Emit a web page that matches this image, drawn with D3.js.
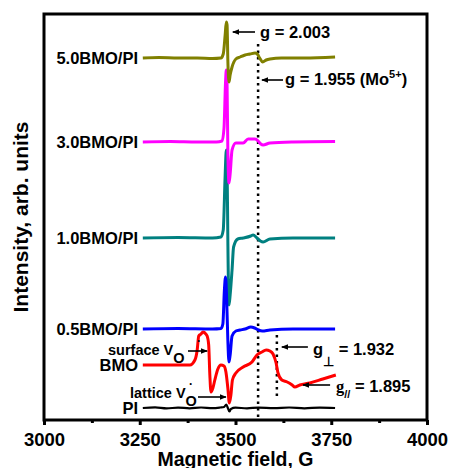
<!DOCTYPE html>
<html>
<head>
<meta charset="utf-8">
<script src="https://cdn.jsdelivr.net/npm/d3@7"></script>
<style>
  body { margin: 0; background: #fff; }
  text { font-family: "Liberation Sans", Arial, sans-serif; font-weight: bold; }
</style>
</head>
<body>
<svg id="chart" width="449" height="468"></svg>
<script>
// ---------- data (magnetic field in G, intensity in arb. units incl. vertical offset) ----------
const xTicks = [3000, 3250, 3500, 3750, 4000];
const xMinorTicks = [3125, 3375, 3625, 3875];

const fieldPI = [3258,3290,3320,3350,3380,3410,3440,3460,3470,3476,3480,3484,3488,3500,3530,3560,3600,3640,3680,3720,3760];
const intPI   = [12,12.6,11.6,12.4,11.7,12.5,11.9,12.5,13,15.5,12,8.5,11,12.3,11.7,12.4,11.8,12.5,11.7,12.4,12];

const fieldBMO = [3258,3329,3381,3394,3400,3404,3410,3415,3420,3426,3430,3433,3436,3441,3446,3454,3462,3470,3475,3480,3484,3488,3492,3501,3520,3543,3556,3569,3580,3590,3598,3606,3611,3621,3635,3648,3655,3668,3694,3728,3762];
const intBMO   = [55,55,55,60,70,84,86,88,87,84,75,45,28,32,40,51,55,54,48,32,17,25,40,47,53,58,65,68,70,69,66,57,47,40,38,35,33,35,37,41,45];

const field05 = [3258,3350,3440,3462,3467,3471,3474,3477,3480,3483,3486,3491,3501,3512,3525,3540,3550,3560,3570,3590,3650,3760];
const int05   = [91,91.5,91,91.5,96,130,143,120,80,58,65,84,89,90,91,93,92,90,89,90,91,91];

const field10 = [3258,3350,3440,3462,3468,3473,3476,3478,3480,3483,3486,3491,3495,3506,3520,3540,3546,3556,3565,3572,3590,3650,3760];
const int10   = [182,182.5,182,183,190,245,270,255,180,115,125,150,173,181,182,184,185,182,179,178,181,182,182];

const field30 = [3258,3330,3400,3450,3465,3470,3474,3476,3478,3480,3483,3486,3491,3501,3520,3533,3551,3559,3566,3572,3590,3650,3760];
const int30   = [278,278.5,278,278,279,292,338,350,335,270,237,246,270,277,277,281,281,279,276,275,277,278,278.5];

const field50 = [3258,3300,3350,3400,3440,3462,3468,3473,3476,3478,3480,3483,3486,3491,3501,3512,3525,3538,3551,3557,3563,3571,3580,3590,3620,3680,3760];
const int50   = [362,362.5,362,362,361.5,362,366,385,398,395,360,338,345,353,361,363,365,366,367,366,362,358,360,361,362,362,363];

const seriesNames  = ["PI", "BMO", "1.0BMO/PI", "0.5BMO/PI", "3.0BMO/PI", "5.0BMO/PI"];
const seriesColors = ["#000000", "#ff0000", "#008080", "#0000ff", "#ff00ff", "#808000"];
const seriesFields = [fieldPI, fieldBMO, field10, field05, field30, field50];
const seriesInts   = [intPI, intBMO, int10, int05, int30, int50];

// ---------- layout ----------
const W = 449, H = 468;
const L = 44, R = 427, T = 14, B = 420;

const svg = d3.select("#chart");
const x = d3.scaleLinear().domain([3000, 4000]).range([L, R]);
const y = d3.scaleLinear().domain([0, 406]).range([B, T]);

// dotted guide lines
svg.append("line")
  .attr("x1", x(3559)).attr("x2", x(3559))
  .attr("y1", y(376)).attr("y2", y(0))
  .attr("stroke", "#000").attr("stroke-width", 2.5)
  .attr("stroke-dasharray", "2.5,4");
svg.append("line")
  .attr("x1", x(3608)).attr("x2", x(3608))
  .attr("y1", y(85)).attr("y2", y(23))
  .attr("stroke", "#000").attr("stroke-width", 2.5)
  .attr("stroke-dasharray", "2.5,4");

// traces
const line = d3.line().x(d => x(d[0])).y(d => y(d[1])).curve(d3.curveMonotoneX);
seriesNames.forEach((name, i) => {
  const pts = seriesFields[i].map((f, j) => [f, seriesInts[i][j]]);
  svg.append("path")
    .datum(pts)
    .attr("d", line)
    .attr("fill", "none")
    .attr("stroke", seriesColors[i])
    .attr("stroke-width", i === 0 ? 2.2 : 3)
    .attr("stroke-linejoin", "round");
  // label
  svg.append("text")
    .attr("x", 138)
    .attr("y", y(seriesInts[i][0]) + 5.5)
    .attr("text-anchor", "end")
    .attr("font-size", 16.5)
    .attr("fill", "#000")
    .text(name);
});

// arrows
const defs = svg.append("defs");
defs.append("marker")
  .attr("id", "ah").attr("viewBox", "0 0 10 10")
  .attr("refX", 9).attr("refY", 5)
  .attr("markerWidth", 7).attr("markerHeight", 7)
  .attr("markerUnits", "userSpaceOnUse")
  .attr("orient", "auto")
  .append("path").attr("d", "M0,1 L10,5 L0,9 Z").attr("fill", "#000");

const arrows = [
  [3551, 3493, 388],
  [3624, 3569, 340],
  [3689, 3621, 73],
  [3747, 3676, 35],
  [3376, 3426, 69],
  [3402, 3475, 23]
];
arrows.forEach(a => {
  svg.append("line")
    .attr("x1", x(a[0])).attr("x2", x(a[1]))
    .attr("y1", y(a[2])).attr("y2", y(a[2]))
    .attr("stroke", "#000").attr("stroke-width", 1.6)
    .attr("marker-end", "url(#ah)");
});

// annotation texts
svg.append("text").attr("x", 260).attr("y", 38).attr("font-size", 16.5).text("g = 2.003");

const t2 = svg.append("text").attr("x", 285).attr("y", 85).attr("font-size", 16.5);
t2.append("tspan").text("g = 1.955 (Mo");
t2.append("tspan").attr("dy", -7).attr("font-size", 11).text("5+");
t2.append("tspan").attr("dy", 7).text(")");

const t3 = svg.append("text").attr("x", 313).attr("y", 355).attr("font-size", 16.5);
t3.append("tspan").text("g");
t3.append("tspan").attr("dy", 11).attr("font-size", 13).text("\u22A5");
t3.append("tspan").attr("dy", -11).text(" = 1.932");

const t4 = svg.append("text").attr("x", 336).attr("y", 392).attr("font-size", 16.5);
t4.append("tspan").attr("font-family", "Liberation Serif, serif").text("g");
t4.append("tspan").attr("dy", 6).attr("font-size", 11).text("//");
t4.append("tspan").attr("dy", -6).text(" = 1.895");

const t5 = svg.append("text").attr("x", 108).attr("y", 355).attr("font-size", 14.5);
t5.append("tspan").text("surface V");
t5.append("tspan").attr("dy", 8).text("O");
svg.append("text").attr("x", 197).attr("y", 345).attr("font-size", 12).text("\u00B7");

const t6 = svg.append("text").attr("x", 130).attr("y", 398).attr("font-size", 14.5);
t6.append("tspan").text("lattice V");
t6.append("tspan").attr("dy", 8).text("O");
svg.append("text").attr("x", 189).attr("y", 388).attr("font-size", 12).text("\u00B7");

// axes
const ax = svg.append("g").attr("transform", `translate(0,${B})`)
  .call(d3.axisBottom(x).tickValues(xTicks).tickFormat(d3.format("d")).tickSize(5).tickPadding(8).tickSizeOuter(0));
ax.select(".domain").remove();
ax.selectAll("line").attr("stroke", "#000").attr("stroke-width", 3);
ax.selectAll("text").attr("font-size", 18.5).attr("fill", "#000")
  .style("font-family", "Liberation Sans, Arial, sans-serif").style("font-weight", "bold");

const axm = svg.append("g").attr("transform", `translate(0,${B})`)
  .call(d3.axisBottom(x).tickValues(xMinorTicks).tickSize(3).tickFormat(""));
axm.select(".domain").remove();
axm.selectAll("line").attr("stroke", "#000").attr("stroke-width", 3);

// frame
svg.append("rect")
  .attr("x", L).attr("y", T).attr("width", R - L).attr("height", B - T)
  .attr("fill", "none").attr("stroke", "#000").attr("stroke-width", 3);

// axis titles
svg.append("text")
  .attr("x", (L + R) / 2).attr("y", 466)
  .attr("text-anchor", "middle").attr("font-size", 19.5)
  .text("Magnetic field, G");
svg.append("text")
  .attr("transform", `translate(28,${(T + B) / 2}) rotate(-90)`)
  .attr("text-anchor", "middle").attr("font-size", 21)
  .text("Intensity, arb. units");
</script>
</body>
</html>
